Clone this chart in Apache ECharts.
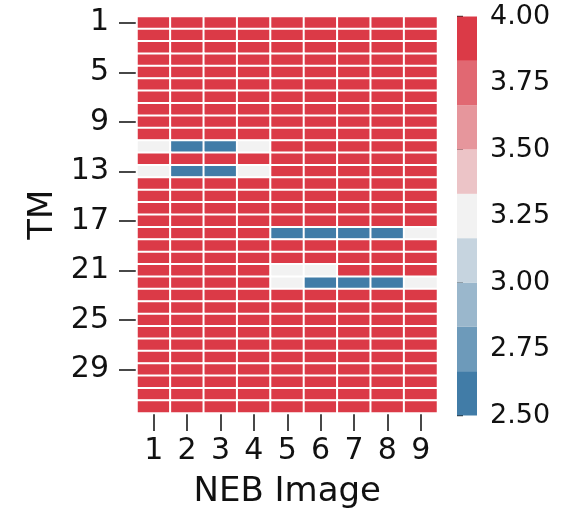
<!DOCTYPE html>
<html>
<head>
<meta charset="utf-8">
<script src="https://cdn.jsdelivr.net/npm/echarts@6/dist/echarts.min.js"></script>
<style>
html,body{margin:0;padding:0;background:#fff;}
#chart{width:561px;height:514px;}
</style>
</head>
<body>
<div id="chart"></div>
<script>
// NEB image categories (columns)
var nebImages = ['1','2','3','4','5','6','7','8','9'];
// TM categories (rows, top to bottom)
var tmLabels = [];
for (var t = 1; t <= 32; t++) tmLabels.push(String(t));
// cell values, one row per TM, one entry per NEB image
var tmValues = [
  [4,4,4,4,4,4,4,4,4],
  [4,4,4,4,4,4,4,4,4],
  [4,4,4,4,4,4,4,4,4],
  [4,4,4,4,4,4,4,4,4],
  [4,4,4,4,4,4,4,4,4],
  [4,4,4,4,4,4,4,4,4],
  [4,4,4,4,4,4,4,4,4],
  [4,4,4,4,4,4,4,4,4],
  [4,4,4,4,4,4,4,4,4],
  [4,4,4,4,4,4,4,4,4],
  [3.25,2.5,2.5,3.25,4,4,4,4,4],
  [4,4,4,4,4,4,4,4,4],
  [3.25,2.5,2.5,3.25,4,4,4,4,4],
  [4,4,4,4,4,4,4,4,4],
  [4,4,4,4,4,4,4,4,4],
  [4,4,4,4,4,4,4,4,4],
  [4,4,4,4,4,4,4,4,4],
  [4,4,4,4,2.5,2.5,2.5,2.5,3.25],
  [4,4,4,4,4,4,4,4,4],
  [4,4,4,4,4,4,4,4,4],
  [4,4,4,4,3.25,3.25,4,4,4],
  [4,4,4,4,3.25,2.5,2.5,2.5,3.25],
  [4,4,4,4,4,4,4,4,4],
  [4,4,4,4,4,4,4,4,4],
  [4,4,4,4,4,4,4,4,4],
  [4,4,4,4,4,4,4,4,4],
  [4,4,4,4,4,4,4,4,4],
  [4,4,4,4,4,4,4,4,4],
  [4,4,4,4,4,4,4,4,4],
  [4,4,4,4,4,4,4,4,4],
  [4,4,4,4,4,4,4,4,4],
  [4,4,4,4,4,4,4,4,4]
];
// colour scale
var vMin = 2.5, vMax = 4.0;
var paletteColors = ['#417CA7','#6D9ABA','#9AB7CC','#C6D4DF','#F2F2F2','#ECC4C7','#E6969C','#E16872','#DB3A47'];

var heatData = [];
for (var r = 0; r < tmValues.length; r++) {
  for (var c = 0; c < tmValues[r].length; c++) {
    heatData.push([c, r, tmValues[r][c]]);
  }
}
var nBands = paletteColors.length;
var step = (vMax - vMin) / nBands;
var pieces = [];
var bandData = [];
for (var i = 0; i < nBands; i++) {
  var lo = vMin + i * step, hi = vMin + (i + 1) * step;
  pieces.push({gte: i === 0 ? -Infinity : lo, lt: i === nBands - 1 ? Infinity : hi, color: paletteColors[i]});
  bandData.push([lo, hi, i]);
}

var FONT = 'DejaVu Sans';
var chart = echarts.init(document.getElementById('chart'), null, {renderer: 'canvas'});
chart.setOption({
  animation: false,
  backgroundColor: '#fff',
  grid: [
    {left: 137, top: 16.5, width: 300.5, height: 399},
    {left: 457, top: 16.5, width: 20, height: 399}
  ],
  xAxis: [
    {
      type: 'category', gridIndex: 0, data: nebImages, position: 'bottom',
      name: 'NEB Image', nameLocation: 'middle', nameGap: 62,
      nameTextStyle: {fontFamily: FONT, fontSize: 34, color: '#111'},
      axisLine: {show: false},
      axisTick: {show: true, alignWithLabel: true, length: 18, lineStyle: {color: '#1a1a1a', width: 1.6}},
      axisLabel: {fontFamily: FONT, fontSize: 30, color: '#111', margin: 23},
      splitLine: {show: false}
    },
    {
      type: 'value', gridIndex: 1, min: 0, max: 1, show: false
    }
  ],
  yAxis: [
    {
      type: 'category', gridIndex: 0, data: tmLabels, inverse: true,
      name: 'TM', nameLocation: 'middle', nameGap: 76, nameRotate: 90,
      nameTextStyle: {fontFamily: FONT, fontSize: 34, color: '#111'},
      axisLine: {show: false},
      axisTick: {show: true, alignWithLabel: true, interval: 3, length: 18, lineStyle: {color: '#1a1a1a', width: 1.6}},
      axisLabel: {fontFamily: FONT, fontSize: 30, color: '#111', interval: 3, margin: 28},
      splitLine: {show: false}
    },
    {
      type: 'value', gridIndex: 1, min: vMin, max: vMax, interval: 0.25, position: 'right',
      axisLine: {show: false},
      axisTick: {show: true, length: 6, lineStyle: {color: '#1a1a1a', width: 1.4}},
      axisLabel: {fontFamily: FONT, fontSize: 27, color: '#111', margin: 13,
        formatter: function (v) { return v.toFixed(2); }},
      splitLine: {show: false}
    }
  ],
  visualMap: {
    show: false, type: 'piecewise', seriesIndex: 0, dimension: 2, pieces: pieces
  },
  series: [
    {
      type: 'heatmap', xAxisIndex: 0, yAxisIndex: 0, data: heatData,
      itemStyle: {borderColor: '#ffffff', borderWidth: 2},
      emphasis: {disabled: true}
    },
    {
      type: 'custom', xAxisIndex: 1, yAxisIndex: 1, data: bandData,
      renderItem: function (params, api) {
        var p0 = api.coord([0, api.value(0)]);
        var p1 = api.coord([1, api.value(1)]);
        var idx = api.value(2);
        return {
          type: 'rect',
          shape: {x: p0[0], y: p1[1], width: p1[0] - p0[0], height: p0[1] - p1[1]},
          style: {fill: paletteColors[idx]}
        };
      }
    }
  ]
});
</script>
</body>
</html>
